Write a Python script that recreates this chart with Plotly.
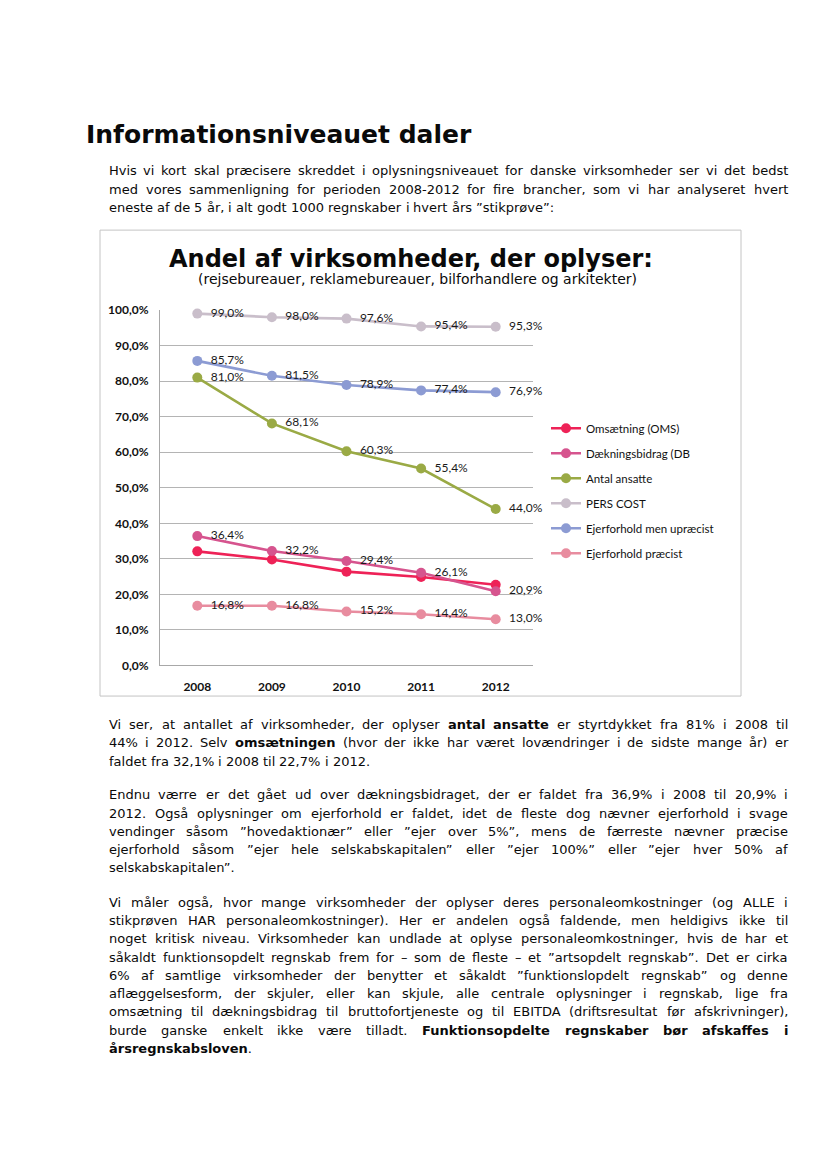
import plotly.graph_objects as go

W, H = 826, 1169

# ---------------- data ----------------
years = ["2008", "2009", "2010", "2011", "2012"]
omsaetning = [32.1, 29.8, 26.4, 24.9, 22.7]
daekningsbidrag = [36.4, 32.2, 29.4, 26.1, 20.9]
antal_ansatte = [81.0, 68.1, 60.3, 55.4, 44.0]
pers_cost = [99.0, 98.0, 97.6, 95.4, 95.3]
ejer_upraecist = [85.7, 81.5, 78.9, 77.4, 76.9]
ejer_praecist = [16.8, 16.8, 15.2, 14.4, 13.0]
y_ticks = [0, 10, 20, 30, 40, 50, 60, 70, 80, 90, 100]
y_ticktext = ["0,0%", "10,0%", "20,0%", "30,0%", "40,0%", "50,0%", "60,0%",
              "70,0%", "80,0%", "90,0%", "100,0%"]

series_names = ["Omsætning (OMS)", "Dækningsbidrag (DB", "Antal ansatte",
                "PERS COST", "Ejerforhold men upræcist", "Ejerforhold præcist"]
series_values = [omsaetning, daekningsbidrag, antal_ansatte, pers_cost,
                 ejer_upraecist, ejer_praecist]
series_colors = ["#EE2257", "#D6548E", "#9AAA45", "#C9BECA", "#8C9BD3", "#E88C9F"]
series_labels = [False, True, True, True, True, True]

page_title = "Informationsniveauet daler"
chart_title = "Andel af virksomheder, der oplyser:"
chart_subtitle = "(rejsebureauer, reklamebureauer, bilforhandlere og arkitekter)"

para1 = [
    "Hvis vi kort skal præcisere skreddet i oplysningsniveauet for danske virksomheder ser vi det bedst",
    "med vores sammenligning for perioden 2008-2012 for fire brancher, som vi har analyseret hvert",
    "eneste af de 5 år, i alt godt 1000 regnskaber i hvert års ”stikprøve”:",
]
para2 = [
    "Vi ser, at antallet af virksomheder, der oplyser **antal ansatte** er styrtdykket fra 81% i 2008 til",
    "44% i 2012. Selv **omsætningen** (hvor der ikke har været lovændringer i de sidste mange år) er",
    "faldet fra 32,1% i 2008 til 22,7% i 2012.",
]
para3 = [
    "Endnu værre er det gået ud over dækningsbidraget, der er faldet fra 36,9% i 2008 til 20,9% i",
    "2012. Også oplysninger om ejerforhold er faldet, idet de fleste dog nævner ejerforhold i svage",
    "vendinger såsom ”hovedaktionær” eller ”ejer over 5%”, mens de færreste nævner præcise",
    "ejerforhold såsom ”ejer hele selskabskapitalen” eller ”ejer 100%” eller ”ejer hver 50% af",
    "selskabskapitalen”.",
]
para4 = [
    "Vi måler også, hvor mange virksomheder der oplyser deres personaleomkostninger (og ALLE i",
    "stikprøven HAR personaleomkostninger). Her er andelen også faldende, men heldigivs ikke til",
    "noget kritisk niveau. Virksomheder kan undlade at oplyse personaleomkostninger, hvis de har et",
    "såkaldt funktionsopdelt regnskab frem for – som de fleste – et ”artsopdelt regnskab”. Det er cirka",
    "6% af samtlige virksomheder der benytter et såkaldt ”funktionslopdelt regnskab” og denne",
    "aflæggelsesform, der skjuler, eller kan skjule, alle centrale oplysninger i regnskab, lige fra",
    "omsætning til dækningsbidrag til bruttofortjeneste og til EBITDA (driftsresultat før afskrivninger),",
    "burde ganske enkelt ikke være tilladt. **Funktionsopdelte regnskaber bør afskaffes i**",
    "**årsregnskabsloven**.",
]

# ---------------- layout helpers ----------------
def px(x):
    return x / W

def py(y):
    return 1 - y / H

REG = {' ': .318, '"': .460, '%': .950, '(': .390, ')': .390, ',': .318, '-': .361,
       '.': .318, ':': .337, '”': .521, '–': .500,
       'A': .684, 'B': .686, 'C': .698, 'D': .770, 'E': .632, 'F': .575, 'H': .752,
       'I': .295, 'L': .557, 'M': .863, 'O': .787, 'R': .695, 'S': .635, 'T': .611,
       'V': .684, 'a': .613, 'b': .635, 'c': .550, 'd': .635, 'e': .615, 'f': .352,
       'g': .635, 'h': .634, 'i': .278, 'j': .278, 'k': .579, 'l': .278, 'm': .974,
       'n': .634, 'o': .612, 'p': .635, 'r': .411, 's': .521, 't': .392, 'u': .634,
       'v': .592, 'w': .818, 'x': .592, 'y': .592, 'z': .525, 'æ': .982, 'ø': .612,
       'å': .613}
for d in "0123456789":
    REG[d] = .636
BOLD = {' ': .348, '.': .381, 'F': .683, 'a': .675, 'b': .716, 'c': .593, 'd': .716,
        'e': .678, 'f': .435, 'g': .716, 'h': .712, 'i': .343, 'k': .665, 'l': .343,
        'm': 1.042, 'n': .712, 'o': .687, 'p': .716, 'r': .493, 's': .595, 't': .478,
        'u': .712, 'v': .652, 'æ': 1.045, 'ø': .687, 'å': .675}

BODY_FONT = "DejaVu Sans"
BODY_SIZE = 13
LEFT, RIGHT = 108, 787

def seg_width(s, bold):
    t = BOLD if bold else REG
    return sum(t.get(c, 0.6) for c in s) * BODY_SIZE

def parse_words(line):
    """Return list of (html, width) for each space-separated word."""
    out = []
    bold = False
    for raw in line.split(" "):
        if not raw:
            continue
        parts = raw.split("**")
        html, wd = "", 0.0
        for j, p in enumerate(parts):
            if j > 0:
                bold = not bold
            if p:
                html += f"<b>{p}</b>" if bold else p
                wd += seg_width(p, bold)
        out.append((html, wd))
    return out

annotations = []

def add_line(line, ycen, justify):
    words = parse_words(line)
    total = sum(w for _, w in words)
    if justify and len(words) > 1:
        gap = (RIGHT - LEFT - total) / (len(words) - 1)
    else:
        gap = REG[' '] * BODY_SIZE
    x = LEFT
    for html, wd in words:
        annotations.append(dict(
            x=px(x), y=py(ycen), xref="paper", yref="paper", xanchor="left",
            yanchor="middle", showarrow=False, borderpad=0, text=html,
            font=dict(family=BODY_FONT, size=BODY_SIZE, color="#0A0A0A")))
        x += wd + gap

def add_para(lines, y0, step=18.5):
    for i, ln in enumerate(lines):
        add_line(ln, y0 + i * step, justify=(i < len(lines) - 1))

add_para(para1, 165)
add_para(para2, 726)
add_para(para3, 797)
add_para(para4, 906)

# titles
annotations.append(dict(x=px(84), y=py(128), xref="paper", yref="paper",
                        xanchor="left", yanchor="middle", showarrow=False,
                        text=f"<b>{page_title}</b>",
                        font=dict(family="DejaVu Sans", size=25, color="#0A0A0A")))
annotations.append(dict(x=px(411), y=py(254), xref="paper", yref="paper",
                        xanchor="center", yanchor="middle", showarrow=False,
                        text=f"<b>{chart_title}</b>",
                        font=dict(family="DejaVu Sans", size=24, color="#0A0A0A")))
annotations.append(dict(x=px(418), y=py(275), xref="paper", yref="paper",
                        xanchor="center", yanchor="middle", showarrow=False,
                        text=chart_subtitle,
                        font=dict(family="DejaVu Sans", size=14, color="#0A0A0A")))

# ---------------- figure ----------------
fig = go.Figure()
for i, (name, vals, col, lab) in enumerate(zip(series_names, series_values,
                                               series_colors, series_labels)):
    txt = [("  " + f"{v:.1f}".replace(".", ",") + "%") if lab else "" for v in vals]
    fig.add_trace(go.Scatter(
        x=years, y=vals, name=name, legendgroup=f"g{i}",
        mode="lines+markers+text" if lab else "lines+markers",
        text=txt, textposition="middle right",
        textfont=dict(family="Lato", size=12, color="#1A1A1A"),
        line=dict(color=col, width=2.6),
        marker=dict(color=col, size=10),
        cliponaxis=False,
    ))

fig.update_layout(
    width=W, height=H, autosize=False,
    margin=dict(l=0, r=0, t=0, b=0),
    paper_bgcolor="white", plot_bgcolor="white",
    showlegend=True,
    legend=dict(x=px(546), y=py(411), xanchor="left", yanchor="top",
                font=dict(family="Lato", size=11.5, color="#111111"),
                tracegroupgap=6, bgcolor="rgba(0,0,0,0)", itemwidth=30),
    xaxis=dict(domain=[px(160), px(533)], type="category", range=[-0.5, 4.5],
               showgrid=False, showline=True, linecolor="#A8A8A8", linewidth=1,
               ticks="", ticklabelstandoff=10,
               tickfont=dict(family="Lato", size=12, color="#111111", weight="bold"),
               zeroline=False, fixedrange=True),
    yaxis=dict(domain=[py(666), py(306)], range=[0, 100], tickmode="array",
               tickvals=y_ticks, ticktext=y_ticktext,
               showgrid=True, gridcolor="#B4B4B4", gridwidth=1,
               showline=True, linecolor="#A8A8A8", linewidth=1,
               ticks="", ticklabelstandoff=8,
               tickfont=dict(family="Lato", size=12, color="#111111", weight="bold"),
               zeroline=False, fixedrange=True),
    shapes=[dict(type="rect", xref="paper", yref="paper",
                 x0=px(100), x1=px(741), y0=py(697), y1=py(225),
                 line=dict(color="#C4C4C4", width=1), fillcolor="rgba(0,0,0,0)",
                 layer="below")],
    annotations=annotations,
)

fig.write_html("out.html",
               config={"displayModeBar": False, "staticPlot": True},
               post_script="document.body.style.margin='0';document.body.style.padding='0';document.body.style.overflow='hidden';")
